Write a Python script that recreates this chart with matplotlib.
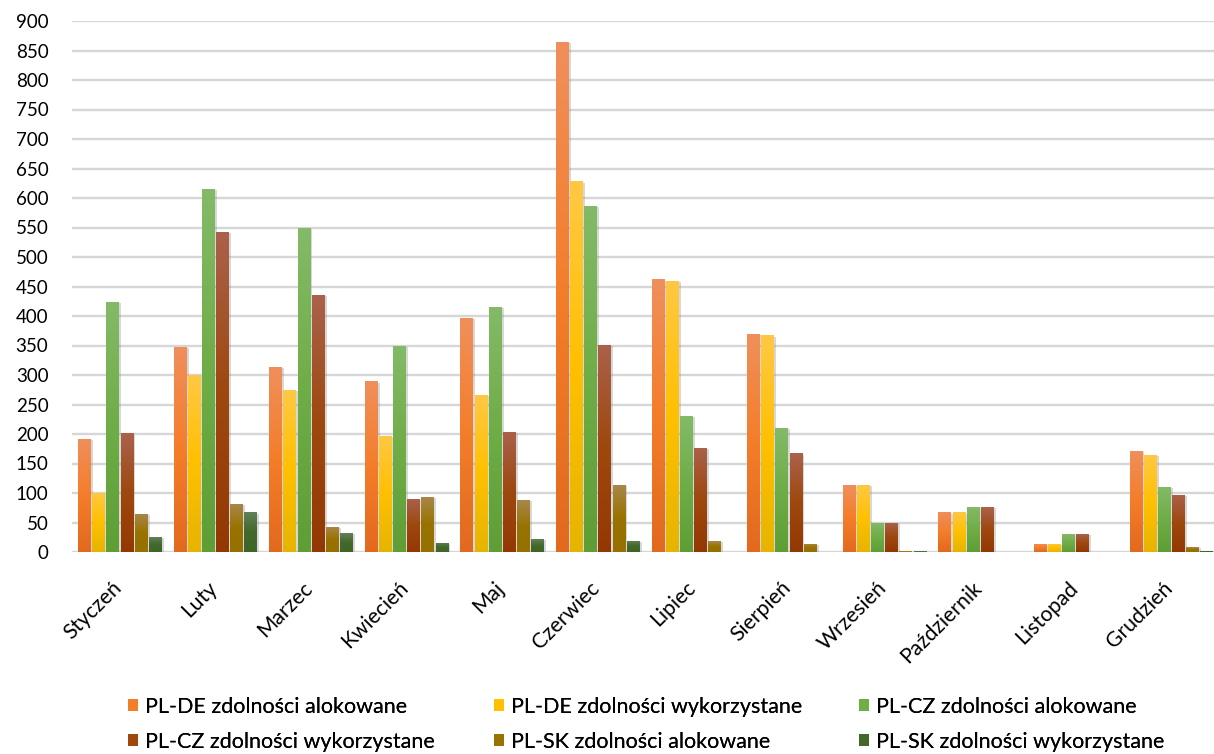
import numpy as np
import matplotlib
matplotlib.use('Agg')
import matplotlib.pyplot as plt
from matplotlib.colors import LinearSegmentedColormap
from matplotlib.patches import Rectangle
from matplotlib.transforms import ScaledTranslation
import matplotlib.patheffects as pe

plt.rcParams['font.family'] = ['Lato', 'DejaVu Sans']

months = ['Styczeń', 'Luty', 'Marzec', 'Kwiecień', 'Maj', 'Czerwiec',
          'Lipiec', 'Sierpień', 'Wrzesień', 'Październik', 'Listopad', 'Grudzień']

series_names = ['PL-DE zdolności alokowane', 'PL-DE zdolności wykorzystane',
                'PL-CZ zdolności alokowane', 'PL-CZ zdolności wykorzystane',
                'PL-SK zdolności alokowane', 'PL-SK zdolności wykorzystane']

pl_de_alok = [192, 348, 313, 289, 396, 864, 462, 369, 113, 67, 14, 172]
pl_de_wyk = [100, 300, 274, 196, 266, 628, 460, 367, 113, 67, 14, 164]
pl_cz_alok = [424, 616, 549, 350, 416, 587, 231, 210, 50, 76, 30, 111]
pl_cz_wyk = [201, 543, 435, 90, 204, 351, 177, 167, 50, 76, 30, 97]
pl_sk_alok = [65, 82, 43, 94, 88, 114, 18, 14, 1, 0, 0, 8]
pl_sk_wyk = [25, 67, 32, 16, 22, 19, 0, 0, 1, 0, 0, 2]

series = [pl_de_alok, pl_de_wyk, pl_cz_alok, pl_cz_wyk, pl_sk_alok, pl_sk_wyk]

# bottom / middle / top colours of each bar gradient
gradients = [
    ('#e2691e', '#f47d2a', '#f08f5c'),
    ('#e6b400', '#ffc000', '#ffc843'),
    ('#5e9e35', '#6fad47', '#84ba68'),
    ('#943803', '#9e480e', '#ab624c'),
    ('#967000', '#997300', '#a9874c'),
    ('#3d6626', '#43682b', '#62805a'),
]

fig = plt.figure(figsize=(12.14, 7.54), dpi=100)
ax = fig.add_axes([72 / 1214, 1 - 552 / 754, (1219 - 72) / 1214, (552 - 21) / 754])

x = np.arange(len(months))
step = 0.148
width = 0.132
ramp = np.linspace(0, 1, 256).reshape(-1, 1)

handles = []
for i, (vals, cols) in enumerate(zip(series, gradients)):
    cmap = LinearSegmentedColormap.from_list('g%d' % i, list(cols))
    offs = (i - 2.5) * step
    bars = ax.bar(x + offs, vals, width=width, color=cols[1], zorder=3,
                  path_effects=[pe.SimplePatchShadow(offset=(1.6, -0.8), shadow_rgbFace='#909090', alpha=0.35),
                                pe.Normal()])
    for b, v in zip(bars, vals):
        if v <= 0:
            continue
        im = ax.imshow(ramp, cmap=cmap, origin='lower', aspect='auto', zorder=4,
                       extent=[b.get_x(), b.get_x() + b.get_width(), 0, v])
        im.set_clip_path(b)
    handles.append(Rectangle((0, 0), 1, 1, facecolor=cols[1], edgecolor='none'))

ax.set_xlim(-0.5, len(months) - 0.5)
ax.set_ylim(0, 900)
ax.set_yticks(np.arange(0, 901, 50))
ax.yaxis.grid(True, color='#d6d6d6', linewidth=1.7, zorder=0)
ax.set_axisbelow(True)
for s in ax.spines.values():
    s.set_visible(False)
ax.tick_params(axis='both', length=0, labelcolor='#000000')
ax.tick_params(axis='y', labelsize=13.5, pad=17)

# month names: slanted, text end just below each group centre
ax.set_xticks(x, labels=[])
shift = ScaledTranslation(3 / 100, -37 / 100, fig.dpi_scale_trans)
for xi, name in zip(x, months):
    ax.text(xi, 0, name, transform=ax.get_xaxis_transform() + shift,
            rotation=45, rotation_mode='anchor', ha='right', va='baseline',
            fontsize=15.2, color='#000000')

# legend laid out in three columns of two entries
cols_x = [128, 494, 859]
for c in range(3):
    idx = [c, c + 3]
    leg = fig.legend([handles[k] for k in idx], [series_names[k] for k in idx],
                     loc='upper left', bbox_to_anchor=(cols_x[c] / 1214, 1 - 697 / 754),
                     frameon=False, fontsize=15.5, borderpad=0, borderaxespad=0,
                     handlelength=0.47, handleheight=0.47, handletextpad=0.3,
                     labelspacing=0.7)
    fig.add_artist(leg)

fig.savefig('out.png', dpi=100)
